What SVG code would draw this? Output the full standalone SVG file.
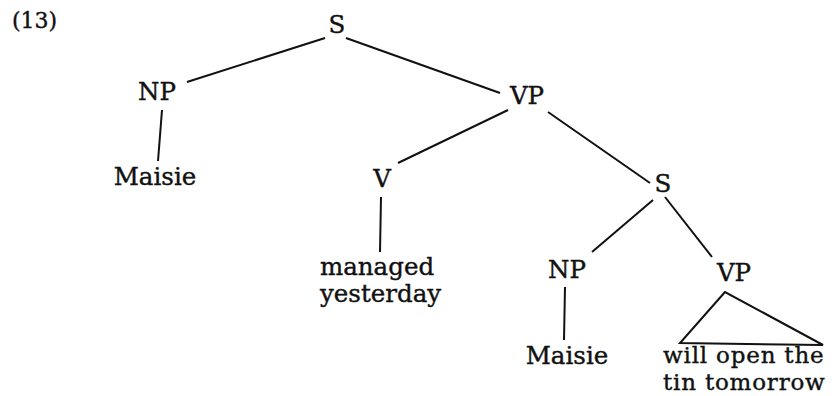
<svg xmlns="http://www.w3.org/2000/svg" width="838" height="396" viewBox="0 0 838 396">
<style>
text{font-family:"DejaVu Serif","Liberation Serif",serif;font-size:24.5px;fill:#111;stroke:#111;stroke-width:0.4}
.c{text-anchor:middle}
.t{font-size:23px;letter-spacing:0.8px}
.e line,.e polygon{stroke:#111;stroke-width:2;fill:none}
</style>
<rect width="838" height="396" fill="#fff"/>
<text id="label" x="12" y="28" style="font-size:22px">(13)</text>
<g class="e" id="edges">
<line x1="325" y1="38" x2="187" y2="82"/>
<line x1="346" y1="38" x2="500" y2="93"/>
<line x1="162" y1="110" x2="158" y2="161"/>
<line x1="508" y1="110" x2="398" y2="163"/>
<line x1="548" y1="112" x2="650" y2="183"/>
<line x1="381" y1="197" x2="380" y2="252"/>
<line x1="653" y1="200" x2="592" y2="252"/>
<line x1="665" y1="197" x2="712" y2="257"/>
<line x1="565" y1="287" x2="564" y2="340"/>
<polygon points="725,292 680,343 823,345"/>
</g>
<g id="n_S"><text class="c" x="337" y="33">S</text></g>
<g id="n_NP"><text class="c" x="157" y="100">NP</text></g>
<g id="n_Maisie1"><text class="c" x="155" y="185">Maisie</text></g>
<g id="n_VP"><text class="c" x="527" y="104">VP</text></g>
<g id="n_V"><text class="c" x="382" y="187">V</text></g>
<g id="n_managed"><text x="320" y="275">managed</text><text x="320" y="302">yesterday</text></g>
<g id="n_S2"><text class="c" x="663" y="192">S</text></g>
<g id="n_NP2"><text class="c" x="567" y="278">NP</text></g>
<g id="n_Maisie2"><text class="c" x="567" y="364">Maisie</text></g>
<g id="n_VP2"><text class="c" x="734" y="281">VP</text></g>
<g id="n_will"><text class="t" x="663" y="363">will open the</text><text class="t" x="663" y="390">tin tomorrow</text></g>
</svg>
